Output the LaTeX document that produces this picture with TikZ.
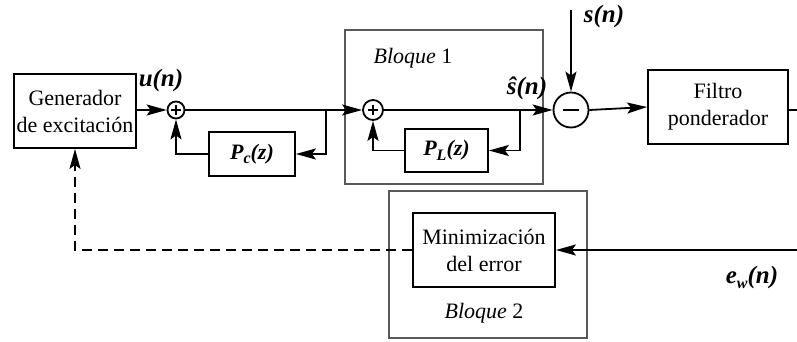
\documentclass[tikz,border=0pt]{standalone}
\usepackage{fontspec}
\setmainfont{Liberation Serif}
\usetikzlibrary{arrows.meta}
\newcommand\lowsub[1]{\raisebox{-0.45ex}{\fontsize{16}{16}\selectfont #1}}
\tikzset{
  ln/.style={line width=1.8pt},
  arr/.style={ln,-{Stealth[length=20pt,width=11pt,inset=4pt]}},
  blockbox/.style={draw,ln,rectangle,align=center,inner sep=0pt,font=\fontsize{22}{27}\selectfont},
  groupbox/.style={draw=black!65,line width=1.1pt},
  lbl/.style={inner sep=0pt,font=\fontsize{25}{25}\selectfont\bfseries\itshape},
  grplbl/.style={inner sep=0pt,font=\fontsize{22}{24}\selectfont},
  sumnode/.style={draw,ln,circle,inner sep=0pt,minimum size=#1},
  plusmark/.style={sumnode=#1,path picture={
      \draw[line width=1.2pt] ([xshift=-5pt]path picture bounding box.center) -- ++(10pt,0)
        ([yshift=-5pt]path picture bounding box.center) -- ++(0,10pt);}},
  minusmark/.style={sumnode=35pt,path picture={
      \draw[line width=1.2pt] ([xshift=-8pt]path picture bounding box.center) -- ++(16pt,0);}},
}
\begin{document}
\begin{tikzpicture}[x=1pt,y=-1pt]
\useasboundingbox (0,0) rectangle (797,342);
% group boxes
\draw[groupbox] (345,30) rectangle (543,184);
\draw[groupbox] (389,191) rectangle (587,338);
\node[grplbl] (b1) at (413,58) {\textit{Bloque} 1};
\node[grplbl] (b2) at (484,313) {\textit{Bloque} 2};
% blocks
\node[blockbox,minimum width=122pt,minimum height=74pt] (gen) at (75,111) {Generador\\de excitación};
\node[plusmark=17pt] (s1) at (176,110) {};
\node[blockbox,minimum width=86pt,minimum height=44pt] (pc) at (252,154) {\bfseries\itshape P\lowsub{c}(z)};
\node[plusmark=20pt] (s2) at (373,110) {};
\node[blockbox,minimum width=83pt,minimum height=43pt] (pl) at (446.5,150.5) {\bfseries\itshape P\lowsub{L}(z)};
\node[minusmark] (mn) at (571,110) {};
\node[blockbox,minimum width=140pt,minimum height=74pt] (filt) at (718,107) {Filtro\\ponderador};
\node[blockbox,minimum width=142pt,minimum height=74pt] (mini) at (484,250) {Minimización\\del error};
% coordinates
\coordinate (t1) at (326,110);
\coordinate (t2) at (520,110);
\coordinate (sin) at (571,10);
\coordinate (out) at (797,110);
\coordinate (ein) at (797,250);
% connectors
\draw[arr] (gen.east |- s1) -- (s1.west);
\draw[arr] (s1.east) -- (s2.west);
\draw[arr] (t1) |- (pc.east);
\draw[arr] (pc.west) -| (s1.south);
\draw[arr] (s2.east) -- (mn.west);
\draw[arr] (t2) |- (pl.east);
\draw[arr] (pl.west) -| (s2.south);
\draw[arr] (sin) -- (mn.north);
\draw[arr] (mn.east) -- (filt.west);
\draw[ln] (filt.east |- out) -- (out);
\draw[arr] (ein) -- (mini.east);
\draw[arr,dash pattern=on 10pt off 6pt] (mini.west) -| (gen.south);
% labels
\node[lbl] (un) at (161,80) {u(n)};
\node[lbl] (shat) at (527,88) {ŝ(n)};
\node[lbl] (sn) at (604,16) {s(n)};
\node[lbl] (ew) at (752,277) {e\lowsub{w}(n)};
\end{tikzpicture}
\end{document}
